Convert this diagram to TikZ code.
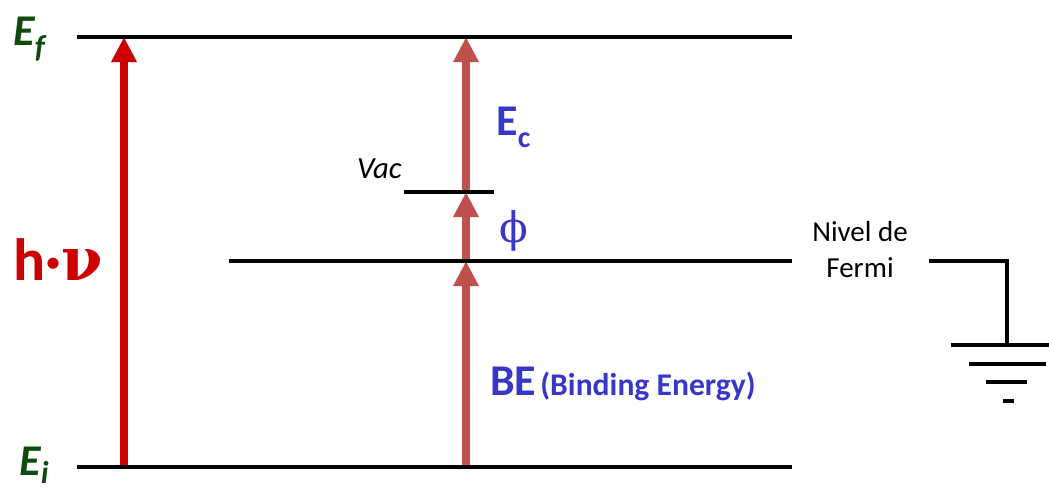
\documentclass[tikz,border=0pt]{standalone}
\usepackage{fontspec}
\setmainfont{Carlito}
\newfontfamily\phifont{DejaVu Serif}
\usetikzlibrary{arrows.meta,positioning}
\definecolor{photonred}{RGB}{204,0,0}
\definecolor{jumpred}{RGB}{192,80,77}
\definecolor{energyblue}{RGB}{55,55,200}
\definecolor{levelgreen}{RGB}{15,75,15}
\newcommand{\levelname}[2][-7pt]{{\fontsize{25}{25}\selectfont\bfseries\itshape E}%
  \raisebox{#1}{\fontsize{18}{18}\selectfont\bfseries\itshape #2}}

\begin{document}
\begin{tikzpicture}[x=0.02cm,y=-0.02cm,
  level/.style={line width=2pt,black},
  photon/.style={-{Triangle[width=0.48cm,length=0.5cm]},line width=0.16cm,color=photonred},
  jump/.style={-{Triangle[width=0.48cm,length=0.5cm]},line width=0.16cm,color=jumpred},
  lvllabel/.style={inner sep=0pt,text=levelgreen},
  energy/.style={inner sep=0pt,text=energyblue,font=\bfseries},
]
  \useasboundingbox (0,0) rectangle (1049,488);
  % levels
  \coordinate (ef-l) at (77,37);   \coordinate (ef-r) at (792,37);
  \coordinate (ei-l) at (77,467);  \coordinate (ei-r) at (792,467);
  \coordinate (fe-l) at (229,261); \coordinate (fe-r) at (792,261);
  \coordinate (vac-l) at (404,192); \coordinate (vac-r) at (494,192);
  % arrow ends
  \coordinate (hv-bot) at (124,467); \coordinate (hv-top) at (124,37);
  \coordinate (be-bot) at (466,467); \coordinate (be-top) at (466,261);
  \coordinate (phi-top) at (466,192); \coordinate (ec-top) at (466,37);
  % ground
  \coordinate (gnd-l) at (929,261); \coordinate (gnd-c) at (1007,261);
  \coordinate (gnd-b) at (1007,345);

  \draw[photon] (hv-bot) -- (hv-top);
  \draw[jump] (be-bot) -- (be-top);
  \draw[jump] (be-top) -- (phi-top);
  \draw[jump] (phi-top) -- (ec-top);

  \draw[level] (ef-l) -- (ef-r);
  \draw[level] (ei-l) -- (ei-r);
  \draw[level] (fe-l) -- (fe-r);
  \draw[level] (vac-l) -- (vac-r);

  \draw[level] (gnd-l) -- (gnd-c) -- (gnd-b);
  \draw[level] (951,345) -- (1049,345);
  \draw[level] (969,364) -- (1046,364);
  \draw[level] (986,382) -- (1027,382);
  \draw[level] (1003,401) -- (1014,401);

  % labels
  \node[lvllabel,anchor=base west] (ef) at (13,45) {\levelname{f}};
  \node[lvllabel,anchor=base west] (ei) at (19,475) {\levelname[-5pt]{i}};
  \node[inner sep=0pt,text=photonred,anchor=base west,
    font=\fontsize{34}{34}\selectfont\bfseries] (hv) at (13,280) {h·{\phifont ν}};
  \node[energy,anchor=base west] (ec) at (496,135)
    {{\fontsize{25}{25}\selectfont E}\raisebox{-7pt}{\fontsize{17}{17}\selectfont c}};
  \node[inner sep=0pt,text=energyblue,anchor=center,
    font=\fontsize{24}{24}\selectfont\phifont] (phi) at (514,231) {ϕ};
  \node[inner sep=0pt,anchor=base east,font=\fontsize{17.5}{17.5}\selectfont\itshape]
    (vac) at (402,178) {Vac};
  \node[energy,anchor=base west] (be) at (490,395)
    {{\fontsize{25}{25}\selectfont BE} {\fontsize{18}{18}\selectfont(Binding Energy)}};
  \node[inner sep=0pt,align=center,font=\fontsize{16.5}{20.5}\selectfont]
    (fermi) at (860,250) {Nivel de\\Fermi};
\end{tikzpicture}
\end{document}
